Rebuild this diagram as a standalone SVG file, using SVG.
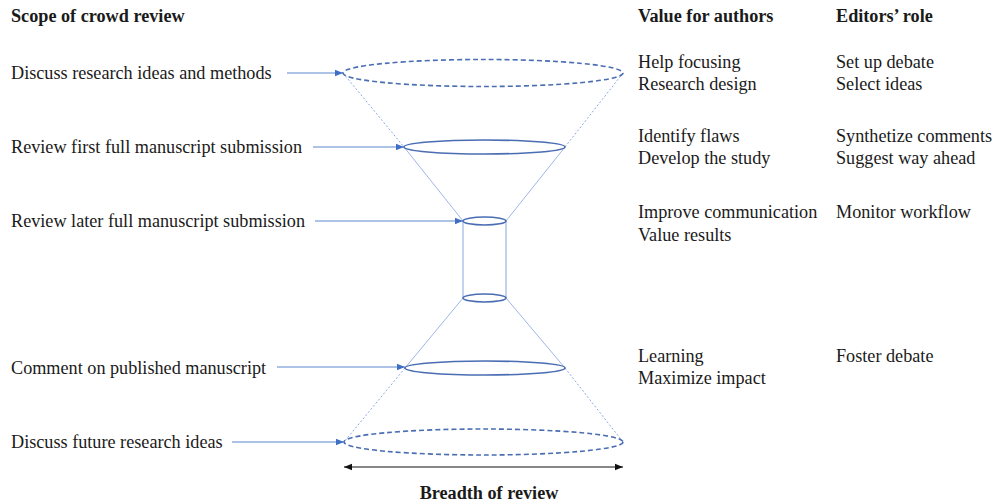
<svg xmlns="http://www.w3.org/2000/svg" width="993" height="502" viewBox="0 0 993 502">
  <style>
    text { font-family: "Liberation Serif", "Times New Roman", serif; font-size: 18.2px; fill: #1a1a1a; }
    .hd { font-weight: bold; }
    .rim { fill: none; stroke: #4a6db3; stroke-width: 1.6; }
    .rim-dash { fill: none; stroke: #4a6db3; stroke-width: 1.6; stroke-dasharray: 5 3; }
    .cone { fill: none; stroke: #9fb6e6; stroke-width: 1; }
    .cone-dot { fill: none; stroke: #8aa8e3; stroke-width: 1; stroke-dasharray: 2 2; }
    .wall { fill: none; stroke: #a9bfe9; stroke-width: 1.4; }
    .link { fill: none; stroke: #5a86d0; stroke-width: 1.2; marker-end: url(#tip); }
    .axis { fill: none; stroke: #111; stroke-width: 1.2; marker-start: url(#tipk); marker-end: url(#tipk); }
  </style>
  <defs>
    <marker id="tip" viewBox="0 0 10 10" refX="10" refY="5" markerWidth="8" markerHeight="8" orient="auto" markerUnits="userSpaceOnUse">
      <path d="M0,1 L10,5 L0,9 Z" fill="#3f6fc4"/>
    </marker>
    <marker id="tipk" viewBox="0 0 10 10" refX="10" refY="5" markerWidth="8" markerHeight="8" orient="auto-start-reverse" markerUnits="userSpaceOnUse">
      <path d="M0,1 L10,5 L0,9 Z" fill="#111"/>
    </marker>
  </defs>

  <!-- column headers -->
  <g id="headers">
    <text class="hd" x="11" y="22">Scope of crowd review</text>
    <text class="hd" x="638" y="22">Value for authors</text>
    <text class="hd" x="836" y="22">Editors’ role</text>
  </g>

  <!-- hourglass funnel -->
  <g id="funnel">
    <line class="cone-dot" x1="343" y1="73" x2="404" y2="147"/>
    <line class="cone" x1="404" y1="147" x2="463" y2="221"/>
    <line class="cone-dot" x1="623" y1="73" x2="565" y2="147"/>
    <line class="cone" x1="565" y1="147" x2="506" y2="221"/>
    <line class="wall" x1="463" y1="221" x2="463" y2="298"/>
    <line class="wall" x1="506" y1="221" x2="506" y2="298"/>
    <line class="cone" x1="463" y1="298" x2="405" y2="368"/>
    <line class="cone-dot" x1="405" y1="368" x2="344" y2="442"/>
    <line class="cone" x1="506" y1="298" x2="565" y2="368"/>
    <line class="cone-dot" x1="565" y1="368" x2="623" y2="442"/>
    <ellipse class="rim-dash" cx="483" cy="73" rx="140" ry="13.5"/>
    <ellipse class="rim" cx="484.5" cy="147" rx="80.5" ry="7"/>
    <ellipse class="rim" cx="484.5" cy="221" rx="21.5" ry="4"/>
    <ellipse class="rim" cx="484.5" cy="298" rx="21.5" ry="4"/>
    <ellipse class="rim" cx="485" cy="368" rx="80" ry="7"/>
    <ellipse class="rim-dash" cx="483.5" cy="442" rx="139.5" ry="13"/>
  </g>

  <!-- stage labels -->
  <g id="stage-ideas">
    <text x="11" y="79">Discuss research ideas and methods</text>
    <text x="638" y="68">Help focusing</text>
    <text x="638" y="90">Research design</text>
    <text x="836" y="68">Set up debate</text>
    <text x="836" y="90">Select ideas</text>
  </g>
  <g id="stage-first">
    <text x="11" y="153">Review first full manuscript submission</text>
    <text x="638" y="142">Identify flaws</text>
    <text x="638" y="164">Develop the study</text>
    <text x="836" y="142">Synthetize comments</text>
    <text x="836" y="164">Suggest way ahead</text>
  </g>
  <g id="stage-later">
    <text x="11" y="227">Review later full manuscript submission</text>
    <text x="638" y="218">Improve communication</text>
    <text x="638" y="241">Value results</text>
    <text x="836" y="218">Monitor workflow</text>
  </g>
  <g id="stage-published">
    <text x="11" y="374">Comment on published manuscript</text>
    <text x="638" y="362">Learning</text>
    <text x="638" y="384">Maximize impact</text>
    <text x="836" y="362">Foster debate</text>
  </g>
  <g id="stage-future">
    <text x="11" y="448">Discuss future research ideas</text>
  </g>

  <!-- connectors -->
  <g id="connectors">
    <line class="link" x1="287" y1="73" x2="343" y2="73"/>
    <line class="link" x1="313" y1="147" x2="404" y2="147"/>
    <line class="link" x1="315" y1="221" x2="463" y2="221"/>
    <line class="link" x1="277" y1="367" x2="405" y2="367"/>
    <line class="link" x1="232" y1="442" x2="344" y2="442"/>
    <line class="axis" x1="344" y1="467" x2="623" y2="467"/>
  </g>

  <g id="axis-label">
    <text class="hd" x="489" y="499" text-anchor="middle">Breadth of review</text>
  </g>
</svg>
